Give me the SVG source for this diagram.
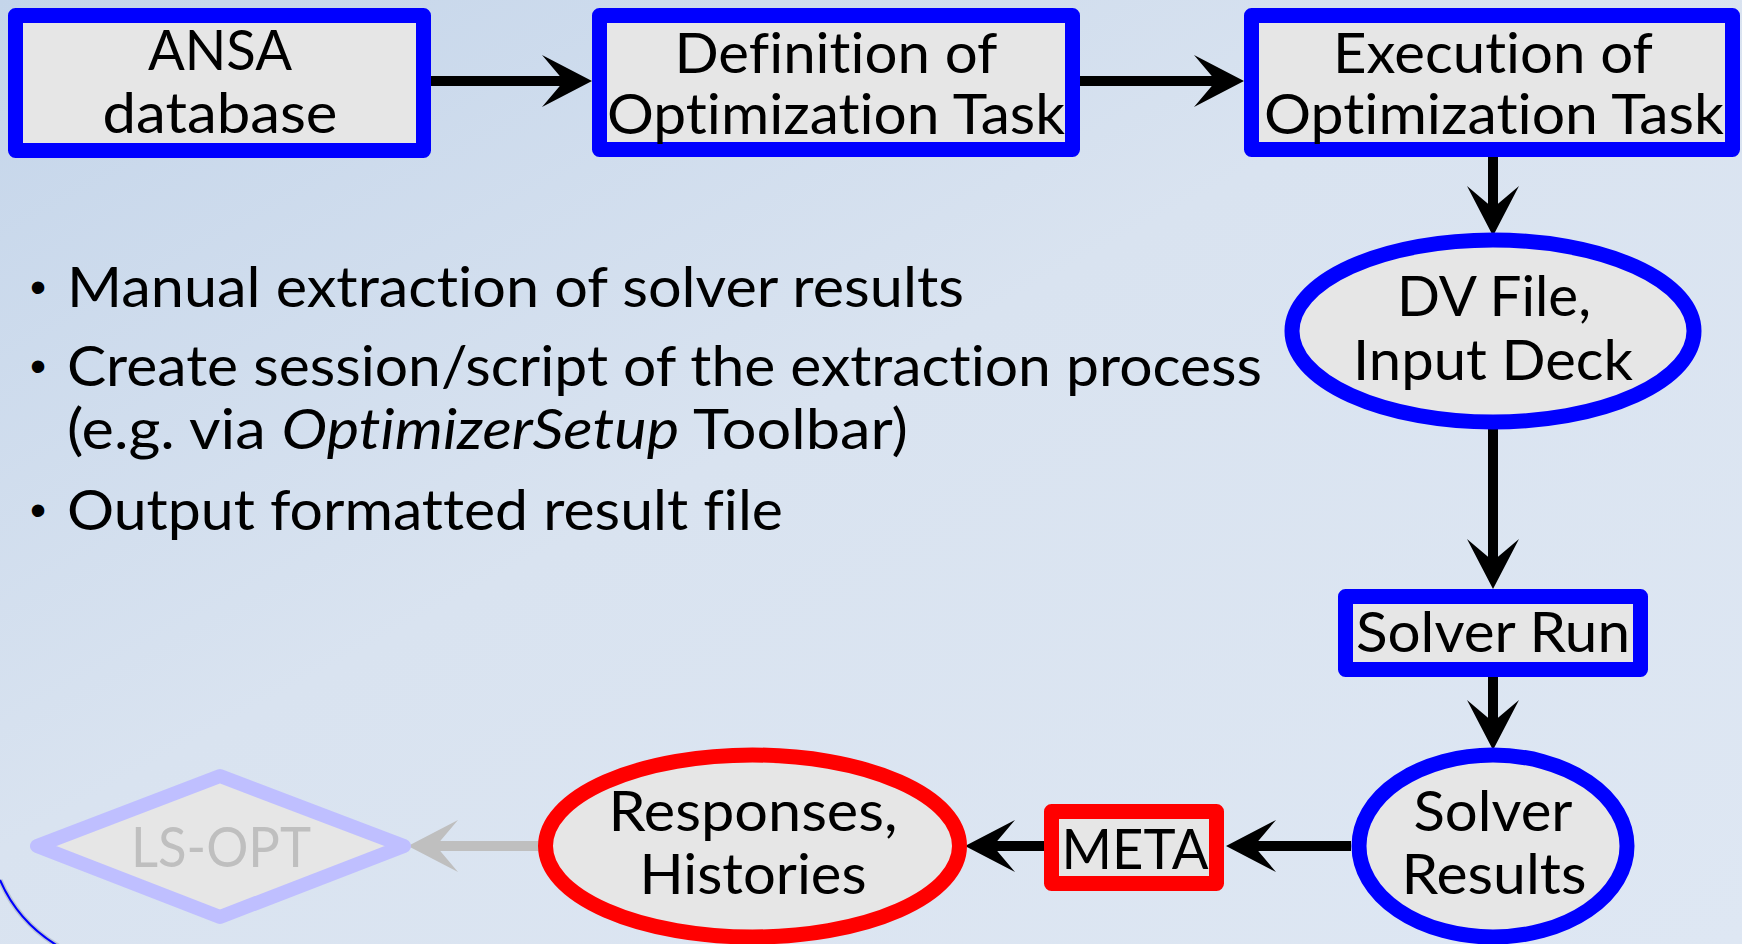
<svg xmlns="http://www.w3.org/2000/svg" width="1742" height="944" viewBox="0 0 1742 944">
<defs>
<linearGradient id="bg" x1="0" y1="0" x2="1" y2="1">
<stop offset="0" stop-color="#c4d5ea"/>
<stop offset="0.45" stop-color="#d9e3f0"/>
<stop offset="1" stop-color="#dee7f3"/>
</linearGradient>
<marker id="ah" markerUnits="userSpaceOnUse" orient="auto" overflow="visible" markerWidth="1" markerHeight="1">
<path d="M28,0 L-22,-26 L0,0 L-22,26 Z" fill="#000"/>
</marker>
<marker id="ahg" markerUnits="userSpaceOnUse" orient="auto" overflow="visible" markerWidth="1" markerHeight="1">
<path d="M28,0 L-22,-26 L0,0 L-22,26 Z" fill="#bfbfbf"/>
</marker>
<style>
text{font-variant-ligatures:none;font-feature-settings:"liga" 0,"dlig" 0,"clig" 0}
.t{font-family:Lato,"Open Sans","Liberation Sans",sans-serif;font-size:56px;fill:#000;text-anchor:middle}
.b{font-family:Lato,"Open Sans","Liberation Sans",sans-serif;font-size:56px;fill:#000}
.d{font-family:"Liberation Sans",sans-serif;font-size:46px;fill:#000}
.box{fill:#e6e6e6;stroke:#0000ff;stroke-width:15;stroke-linejoin:round}
.red{fill:#e6e6e6;stroke:#ff0000;stroke-width:15;stroke-linejoin:round}
.c{fill:none;stroke:#000;stroke-width:10;marker-end:url(#ah)}
.cg{fill:none;stroke:#bfbfbf;stroke-width:10;marker-end:url(#ahg)}
</style>
</defs>
<rect x="0" y="0" width="1742" height="944" fill="url(#bg)"/>
<path d="M0,880 Q18,922 58,946" fill="none" stroke="#9aa6b8" stroke-width="5" opacity="0.5"/>
<path d="M0,880 Q18,922 58,946" fill="none" stroke="#0000ff" stroke-width="2"/>

<g id="connectors">
<line class="c" x1="431" y1="81" x2="564" y2="81"/>
<line class="c" x1="1080" y1="81" x2="1216" y2="81"/>
<line class="c" x1="1493" y1="157" x2="1493" y2="208"/>
<line class="c" x1="1493" y1="429" x2="1493" y2="561"/>
<line class="c" x1="1493" y1="677" x2="1493" y2="722"/>
<line class="c" x1="1351" y1="846" x2="1254" y2="846"/>
<line class="c" x1="1044" y1="846" x2="993" y2="846"/>
<line class="cg" x1="538" y1="846" x2="436" y2="846"/>
</g>

<g id="ansa">
<rect class="box" x="15.5" y="15.5" width="408" height="135"/>
<text class="t" x="220" y="70" textLength="144" lengthAdjust="spacingAndGlyphs">ANSA</text>
<text class="t" x="220" y="133" textLength="235" lengthAdjust="spacingAndGlyphs">database</text>
</g>

<g id="definition">
<rect class="box" x="599.5" y="15.5" width="473" height="134"/>
<text class="t" x="836" y="73" textLength="323" lengthAdjust="spacingAndGlyphs">Definition of</text>
<text class="t" x="836" y="134" textLength="458" lengthAdjust="spacingAndGlyphs">Optimization Task</text>
</g>

<g id="execution">
<rect class="box" x="1251.5" y="15.5" width="481" height="134"/>
<text class="t" x="1493" y="73" textLength="320" lengthAdjust="spacingAndGlyphs">Execution of</text>
<text class="t" x="1494" y="134" textLength="460" lengthAdjust="spacingAndGlyphs">Optimization Task</text>
</g>

<g id="dvfile">
<ellipse class="box" cx="1493" cy="331" rx="201" ry="91"/>
<text class="t" x="1494" y="316" textLength="194" lengthAdjust="spacingAndGlyphs">DV File,</text>
<text class="t" x="1493" y="380" textLength="280" lengthAdjust="spacingAndGlyphs">Input Deck</text>
</g>

<g id="solverrun">
<rect class="box" x="1345.5" y="596.5" width="295" height="73"/>
<text class="t" x="1493" y="652" textLength="274" lengthAdjust="spacingAndGlyphs">Solver Run</text>
</g>

<g id="solverresults">
<ellipse class="box" cx="1493" cy="846" rx="134" ry="91"/>
<text class="t" x="1493" y="831" textLength="159" lengthAdjust="spacingAndGlyphs">Solver</text>
<text class="t" x="1494" y="894" textLength="185" lengthAdjust="spacingAndGlyphs">Results</text>
</g>

<g id="meta">
<rect class="red" x="1051.5" y="811.5" width="165" height="72"/>
<text class="t" x="1135" y="869" textLength="147" lengthAdjust="spacingAndGlyphs">META</text>
</g>

<g id="responses">
<ellipse class="red" cx="752.5" cy="846" rx="207" ry="91"/>
<text class="t" x="753" y="831" textLength="289" lengthAdjust="spacingAndGlyphs">Responses,</text>
<text class="t" x="753" y="894" textLength="227" lengthAdjust="spacingAndGlyphs">Histories</text>
</g>

<g id="lsopt">
<polygon points="37,846 220,776 404,846 220,917" fill="#e6e6e6" stroke="#bfbfff" stroke-width="14" stroke-linejoin="round"/>
<text class="t" x="221" y="867" textLength="180" lengthAdjust="spacingAndGlyphs" style="fill:#bfbfbf">LS-OPT</text>
</g>

<g id="bullets">
<text class="d" x="30" y="303">•</text>
<text class="b" x="67" y="307" textLength="897" lengthAdjust="spacingAndGlyphs">Manual extraction of solver results</text>
<text class="d" x="30" y="382">•</text>
<text class="b" x="67" y="386" textLength="1195" lengthAdjust="spacingAndGlyphs">Create session/script of the extraction process</text>
<text class="b" x="67" y="449" textLength="841" lengthAdjust="spacingAndGlyphs">(e.g. via <tspan font-style="italic">OptimizerSetup</tspan> Toolbar)</text>
<text class="d" x="30" y="526">•</text>
<text class="b" x="67" y="530" textLength="716" lengthAdjust="spacingAndGlyphs">Output formatted result file</text>
</g>
</svg>
